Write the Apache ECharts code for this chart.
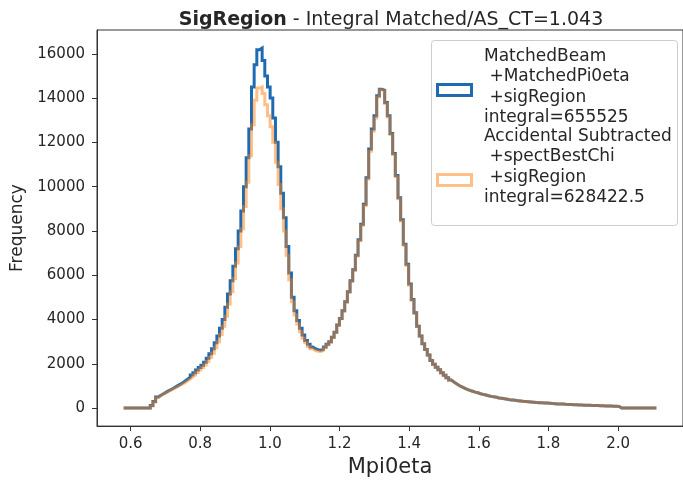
<!DOCTYPE html>
<html>
<head>
<meta charset="utf-8">
<title>SigRegion</title>
<script src="https://cdn.jsdelivr.net/npm/echarts@6/dist/echarts.min.js"></script>
<style>
	html,body{margin:0;padding:0;background:#fff;}
	#main{width:683px;height:483px;}
</style>
</head>
<body>
<div id="main"></div>
<script>
/*********
 * histogram : 200 bins from 0.58 to 2.11
 * ******************/
var binLow  = 0.58;
var binHigh = 2.11;

// MatchedBeam +MatchedPi0eta +sigRegion
var matchedCounts = [
	0,0,0,0,0,0,0,0,0,0,
	120,300,500,580,650,720,790,850,920,990,
	1060,1130,1210,1300,1390,1490,1600,1720,1830,1940,
	2070,2250,2450,2680,2950,3260,3600,4000,4550,5150,
	5750,6400,7200,8000,8900,10000,11300,12600,14500,15500,
	16180,16260,15700,15000,14500,14000,13100,12000,10900,9700,
	8600,7300,6100,5000,4400,3950,3600,3300,3050,2880,
	2760,2680,2640,2610,2650,2760,2880,3000,3200,3420,
	3750,4050,4400,4800,5250,5750,6250,6900,7600,8300,
	9200,10400,11700,12600,13200,14100,14400,14350,13800,13200,
	12400,11500,10500,9500,8500,7400,6500,5600,4900,4300,
	3700,3250,2900,2650,2400,2150,1980,1850,1730,1600,
	1480,1370,1270,1180,1100,1020,960,900,850,800,
	760,720,690,650,620,590,560,530,510,490,
	460,440,420,400,380,365,350,335,320,305,
	295,285,275,265,255,245,240,235,230,220,
	210,200,190,185,180,170,165,160,150,148,
	140,135,130,128,125,120,118,115,110,105,
	100,95,90,85,80,70,0,0,0,0,
	0,0,0,0,0,0,0,0,0,0
];

// Accidental Subtracted +spectBestChi +sigRegion
var accSubCounts = [
	0,0,0,0,0,0,0,0,0,0,
	100,280,470,560,630,700,760,820,890,950,
	1010,1080,1150,1230,1310,1400,1500,1610,1720,1830,
	1950,2100,2280,2480,2720,3000,3320,3700,4150,4700,
	5250,5850,6550,7300,8100,9100,10200,11400,12800,13900,
	14450,14500,14200,13700,13200,12700,12000,11100,10100,9000,
	8000,6900,5800,4800,4200,3800,3450,3150,2950,2780,
	2680,2600,2570,2560,2600,2720,2860,2990,3190,3410,
	3740,4040,4390,4790,5240,5730,6230,6870,7560,8260,
	9150,10350,11600,12500,13100,14050,14380,14320,13750,13150,
	12350,11450,10450,9450,8450,7350,6450,5560,4870,4280,
	3700,3250,2900,2650,2400,2150,1980,1850,1730,1600,
	1480,1370,1270,1180,1100,1020,960,900,850,800,
	760,720,690,650,620,590,560,530,510,490,
	460,440,420,400,380,365,350,335,320,305,
	295,285,275,265,255,245,240,235,230,220,
	210,200,190,185,180,170,165,160,150,148,
	140,135,130,128,125,120,118,115,110,105,
	100,95,90,85,80,70,0,0,0,0,
	0,0,0,0,0,0,0,0,0,0
];

var xTicks = [0.6,0.8,1.0,1.2,1.4,1.6,1.8,2.0];
var yTicks = [0,2000,4000,6000,8000,10000,12000,14000,16000];

var titleBold = "SigRegion";
var titleRest = " - Integral Matched/AS_CT=1.043";
var legendMatched = ["MatchedBeam"," +MatchedPi0eta"," +sigRegion","integral=655525"];
var legendAccSub  = ["Accidental Subtracted"," +spectBestChi"," +sigRegion","integral=628422.5"];

var FONT      = "DejaVu Sans";
var TXT       = "#262626";
var BLUE      = "#1f6bb2";
var ORANGE    = "rgba(255,127,14,0.5)";

// left edge of every bin + closing edge -> step 'end'
function stepPoints(counts){
	var w   = (binHigh - binLow) / counts.length;
	var pts = [[binLow,0]];
	for(var i=0;i<counts.length;i++) pts.push([binLow + i*w, counts[i]]);
	pts.push([binHigh, counts[counts.length-1]]);
	pts.push([binHigh, 0]);
	return pts;
}

// matplotlib keeps 5% margin round the data
var xPad = (binHigh - binLow) * 0.05;
var yMax = Math.max.apply(null, matchedCounts);

var chart = echarts.init(document.getElementById("main"), null, {renderer:"canvas"});

chart.setOption({
	animation: false,
	backgroundColor: "#fff",
	title: {
		text: "{b|" + titleBold + "}{n|" + titleRest + "}",
		left: 391,
		top: 11,
		padding: 0,
		textAlign: "center",
		textStyle: {
			fontWeight: "normal",
			rich: {
				b: {fontFamily: FONT, fontSize: 19, fontWeight: "bold", color: TXT},
				n: {fontFamily: FONT, fontSize: 19, fontWeight: "normal", color: TXT}
			}
		}
	},
	grid: {left: 97, top: 30, right: 0, bottom: 53, show: true, borderColor: "#333", borderWidth: 1},
	xAxis: {
		type: "value",
		min: binLow - xPad,
		max: binHigh + xPad,
		name: "Mpi0eta",
		nameLocation: "middle",
		nameGap: 29,
		nameTextStyle: {fontFamily: FONT, fontSize: 21, color: TXT},
		axisLine: {show: true, onZero: false, lineStyle: {color: "#333"}},
		axisTick: {show: true, length: 5, customValues: xTicks, lineStyle: {color: "#333"}},
		axisLabel: {
			margin: 11, fontFamily: FONT, fontSize: 15, color: TXT,
			customValues: xTicks,
			formatter: function(v){ return v.toFixed(1); }
		},
		splitLine: {show: false}
	},
	yAxis: {
		type: "value",
		min: -yMax * 0.05,
		max: yMax * 1.05,
		name: "Frequency",
		nameLocation: "middle",
		nameRotate: 90,
		nameGap: 65,
		nameTextStyle: {fontFamily: FONT, fontSize: 17, color: TXT},
		axisLine: {show: true, onZero: false, lineStyle: {color: "#333"}},
		axisTick: {show: true, length: 5, customValues: yTicks, lineStyle: {color: "#333"}},
		axisLabel: {
			margin: 12, fontFamily: FONT, fontSize: 15, color: TXT,
			customValues: yTicks,
			formatter: function(v){ return String(v); }
		},
		splitLine: {show: false}
	},
	series: [
		{
			name: "matched", type: "line", step: "end",
			data: stepPoints(matchedCounts),
			showSymbol: false, silent: true,
			lineStyle: {color: BLUE, width: 3, join: "miter"}
		},
		{
			name: "accsub", type: "line", step: "end",
			data: stepPoints(accSubCounts),
			showSymbol: false, silent: true,
			lineStyle: {color: ORANGE, width: 3, join: "miter"}
		}
	],
	// legend box drawn by hand (multi line labels)
	graphic: [
		{type: "rect", left: 431, top: 40, z: 100,
		 shape: {width: 246, height: 185, r: 3},
		 style: {fill: "rgba(255,255,255,0.8)", stroke: "#cccccc", lineWidth: 1}},
		{type: "rect", left: 435, top: 82, z: 101,
		 shape: {width: 34, height: 11},
		 style: {fill: "none", stroke: BLUE, lineWidth: 3}},
		{type: "rect", left: 435, top: 172, z: 101,
		 shape: {width: 34, height: 11},
		 style: {fill: "none", stroke: ORANGE, lineWidth: 3}},
		{type: "text", left: 484, top: 46, z: 101,
		 style: {text: legendMatched.join("\n"), font: "17px '" + FONT + "'", lineHeight: 20.5, fill: TXT}},
		{type: "text", left: 484, top: 126, z: 101,
		 style: {text: legendAccSub.join("\n"), font: "17px '" + FONT + "'", lineHeight: 20.5, fill: TXT}}
	]
});
</script>
</body>
</html>
